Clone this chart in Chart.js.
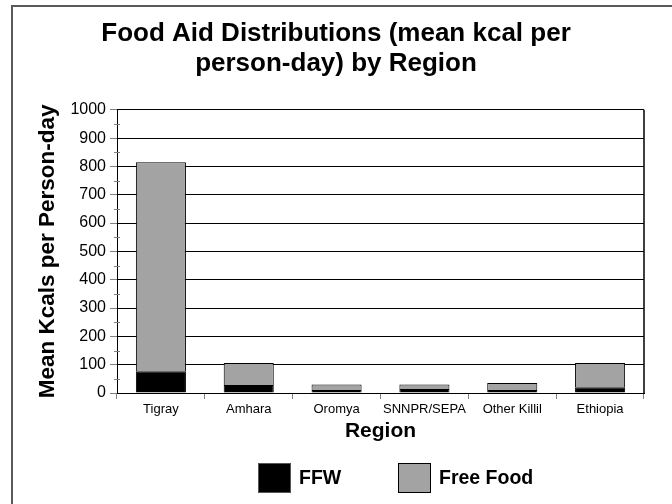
<!DOCTYPE html>
<html>
<head>
<meta charset="utf-8">
<title>Food Aid Distributions by Region</title>
<script src="https://cdn.jsdelivr.net/npm/chart.js@4/dist/chart.umd.min.js"></script>
<style>
  html, body { margin: 0; padding: 0; background: #ffffff; }
  #wrap { width: 672px; height: 504px; position: relative; }
</style>
</head>
<body>
<div id="wrap"><canvas id="c" width="672" height="504"></canvas></div>
<script>
// Regions and mean kcal per person-day, split by distribution type
const regions = ['Tigray', 'Amhara', 'Oromya', 'SNNPR/SEPA', 'Other Killil', 'Ethiopia'];
const ffw = [77, 28, 11, 14, 11, 20];
const freeFood = [738, 78, 19, 16, 24, 86];
const yTicks = [0, 100, 200, 300, 400, 500, 600, 700, 800, 900, 1000];
const minorTicks = [50, 150, 250, 350, 450, 550, 650, 750, 850, 950];

const FONT = "'Liberation Sans', Arial, Helvetica, sans-serif";

// Outer frame, right border of the plot, minor y ticks, and the legend strip
const decorations = {
  id: 'decorations',
  beforeDraw(chart) {
    const ctx = chart.ctx;
    ctx.save();
    ctx.fillStyle = '#ffffff';
    ctx.fillRect(0, 0, chart.width, chart.height);
    ctx.strokeStyle = '#5a5a5a';
    ctx.lineWidth = 2;
    ctx.strokeRect(12, 6, chart.width + 20, chart.height + 20);
    ctx.restore();
  },
  afterDraw(chart) {
    const ctx = chart.ctx;
    const area = chart.chartArea;
    const y = chart.scales.y;
    ctx.save();
    // right edge of the plot box
    ctx.strokeStyle = '#000000';
    ctx.lineWidth = 1.5;
    ctx.beginPath();
    ctx.moveTo(area.right, area.top);
    ctx.lineTo(area.right, area.bottom);
    ctx.stroke();
    // minor ticks crossing the value axis
    ctx.strokeStyle = '#808080';
    ctx.lineWidth = 1;
    minorTicks.forEach(v => {
      const py = Math.round(y.getPixelForValue(v)) + 0.5;
      ctx.beginPath();
      ctx.moveTo(area.left - 3, py);
      ctx.lineTo(area.left + 3, py);
      ctx.stroke();
    });
    // legend
    const items = chart.data.datasets.map(ds => ({ label: ds.label, fill: ds.backgroundColor }));
    const starts = [258, 398];
    const boxW = 33, boxH = 30, top = 463;
    ctx.font = 'bold 19.5px ' + FONT;
    ctx.textBaseline = 'middle';
    ctx.textAlign = 'left';
    items.forEach((it, i) => {
      const x = starts[i];
      ctx.fillStyle = it.fill;
      ctx.fillRect(x, top, boxW, boxH);
      ctx.strokeStyle = i === 0 ? '#555555' : '#000000';
      ctx.lineWidth = 1;
      ctx.strokeRect(x + 0.5, top + 0.5, boxW - 1, boxH - 1);
      ctx.fillStyle = '#000000';
      ctx.fillText(it.label, x + boxW + 8, top + boxH / 2 + 1);
    });
    ctx.restore();
  }
};

new Chart(document.getElementById('c'), {
  type: 'bar',
  data: {
    labels: regions,
    datasets: [
      { label: 'FFW', data: ffw, backgroundColor: '#000000', borderColor: '#000000', borderWidth: 1 },
      { label: 'Free Food', data: freeFood, backgroundColor: '#a3a3a3', borderColor: '#000000', borderWidth: 1 }
    ]
  },
  options: {
    responsive: false,
    animation: false,
    devicePixelRatio: 1,
    layout: { padding: { left: 28, right: 28, top: 0, bottom: 52 } },
    datasets: { bar: { categoryPercentage: 1.0, barPercentage: 0.57 } },
    plugins: {
      legend: { display: false },
      tooltip: { enabled: false },
      title: {
        display: true,
        text: ['Food Aid Distributions (mean kcal per', 'person-day) by Region'],
        color: '#000000',
        font: { family: FONT, size: 26, weight: 'bold', lineHeight: 1.15 },
        padding: { top: 19, bottom: 31 }
      }
    },
    scales: {
      x: {
        stacked: true,
        grid: { display: true, drawOnChartArea: false, drawTicks: true, tickLength: 6, tickColor: '#808080', offset: true },
        border: { display: true, color: '#000000', width: 1 },
        ticks: { color: '#000000', font: { family: FONT, size: 13 }, padding: 3, maxRotation: 0, autoSkip: false },
        title: { display: true, text: 'Region', color: '#000000', font: { family: FONT, size: 21, weight: 'bold' }, padding: { top: 0, bottom: 8 } },
        afterFit(scale) { scale.height = 59; }
      },
      y: {
        stacked: true,
        min: 0,
        max: 1000,
        afterBuildTicks(scale) { scale.ticks = yTicks.map(v => ({ value: v })); },
        grid: { color: '#000000', lineWidth: 1, drawTicks: true, tickLength: 7, tickColor: '#808080' },
        border: { display: true, color: '#000000', width: 1 },
        ticks: { color: '#000000', font: { family: FONT, size: 16 }, padding: 4, callback: v => String(v) },
        title: { display: true, text: 'Mean Kcals per Person-day', color: '#000000', font: { family: FONT, size: 22.5, weight: 'bold' }, padding: { top: 6, bottom: 0 } },
        afterFit(scale) { scale.width = 89; }
      }
    }
  },
  plugins: [decorations]
});
</script>
</body>
</html>
